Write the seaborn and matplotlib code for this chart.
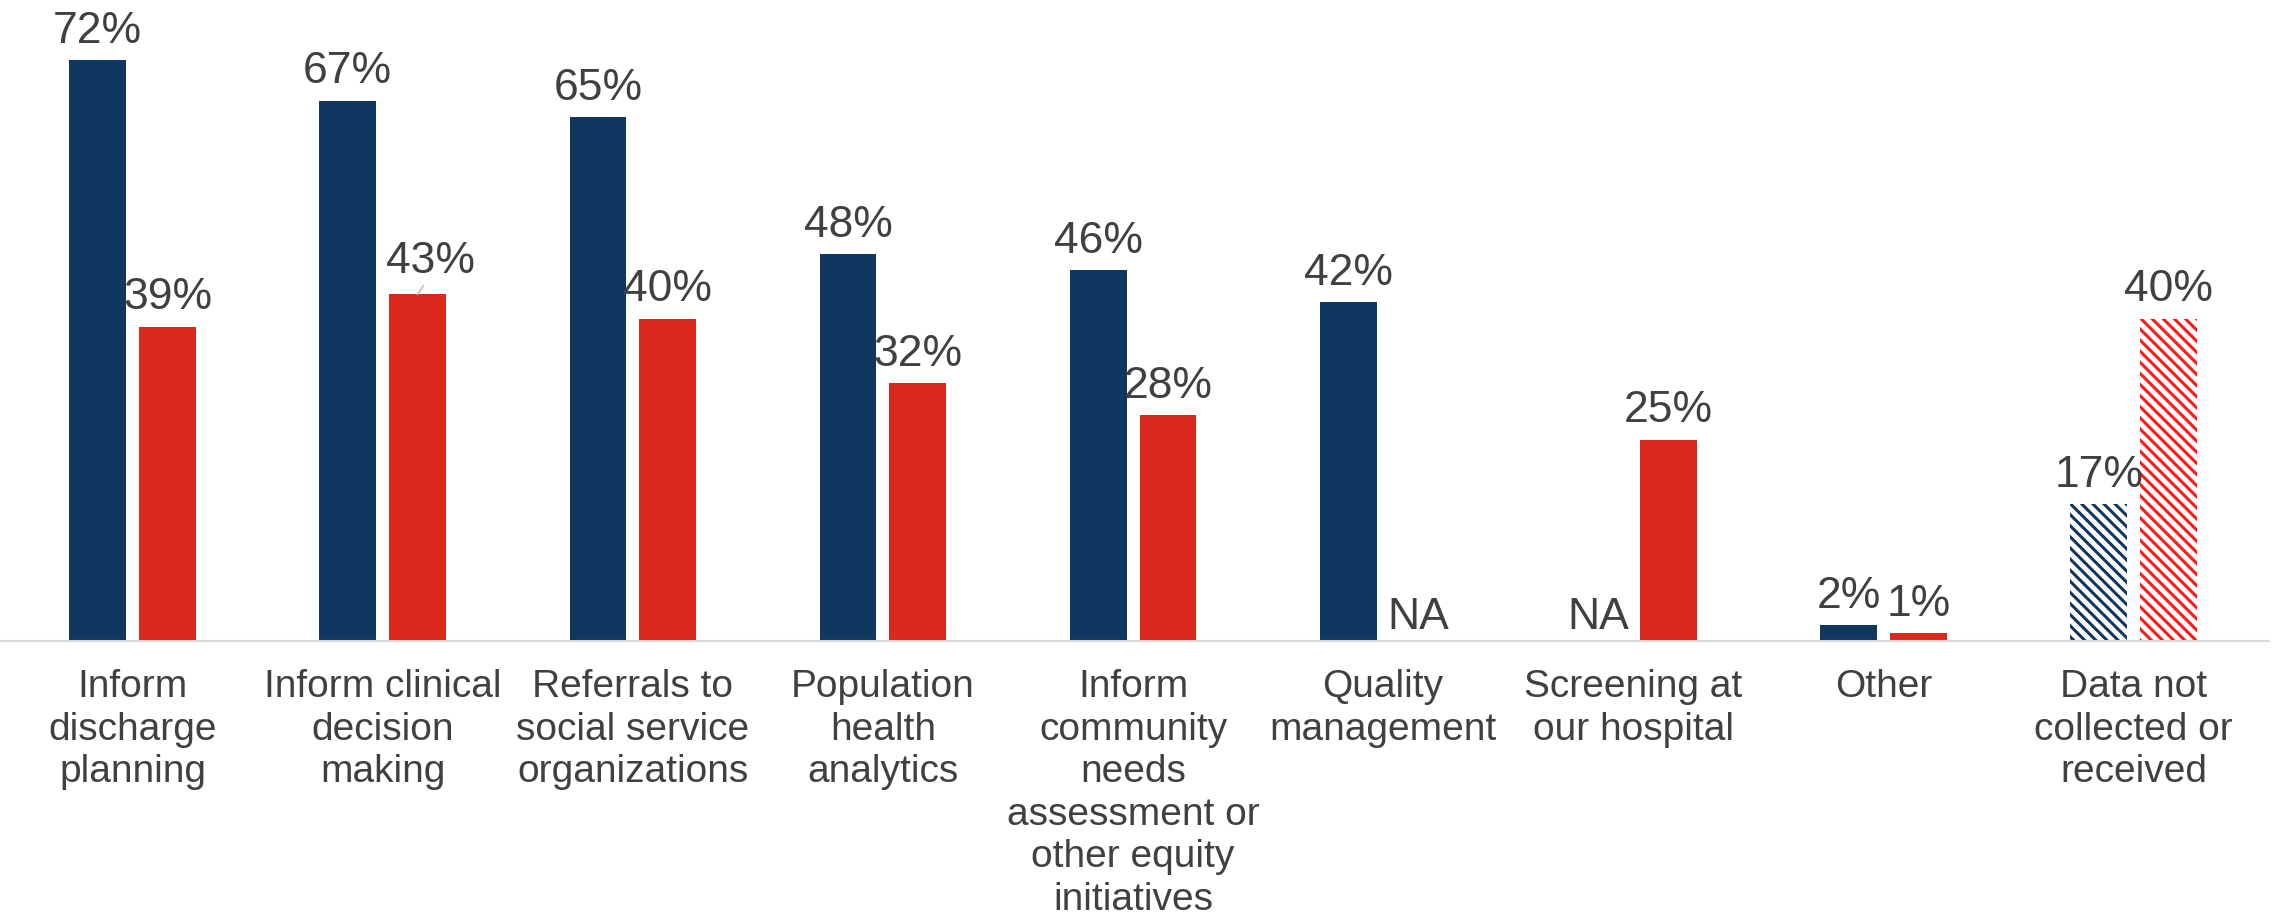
import numpy as np
import pandas as pd
import matplotlib
matplotlib.use("Agg")
import matplotlib.pyplot as plt
import seaborn as sns

# data
categories = [
    "Inform\ndischarge\nplanning",
    "Inform clinical\ndecision\nmaking",
    "Referrals to\nsocial service\norganizations",
    "Population\nhealth\nanalytics",
    "Inform\ncommunity\nneeds\nassessment or\nother equity\ninitiatives",
    "Quality\nmanagement",
    "Screening at\nour hospital",
    "Other",
    "Data not\ncollected or\nreceived",
]
series_names = ["Series 1", "Series 2"]
series_1 = [72, 67, 65, 48, 46, 42, np.nan, 2, 17]
series_2 = [39, 43, 40, 32, 28, np.nan, 25, 1, 40]

NAVY = "#10375F"
RED = "#DA291C"
HATCH_COLORS = ["#10375F", "#FF1A1A"]
TEXT = "#404040"

sns.set_theme(style="white")
plt.rcParams["font.family"] = ["Liberation Sans", "DejaVu Sans"]
plt.rcParams["hatch.linewidth"] = 2.2

df = pd.DataFrame({
    "category": categories * 2,
    "series": [series_names[0]] * len(categories) + [series_names[1]] * len(categories),
    "value": series_1 + series_2,
})

fig = plt.figure(figsize=(22.8, 9.16), dpi=100)
ax = fig.add_axes([0.0, 0.30, 0.995, 0.70])

sns.barplot(data=df, x="category", y="value", hue="series", order=categories,
            hue_order=series_names, palette=[NAVY, RED], saturation=1,
            width=0.558, gap=0.186, errorbar=None, dodge=True, legend=False,
            linewidth=0, ax=ax)

ax.set_ylim(0, 79.5)
ax.set_xlim(-0.53, 8.54)
ax.set_xlabel("")
ax.set_ylabel("")
ax.set_yticks([])
for s in ["left", "right", "top"]:
    ax.spines[s].set_visible(False)
ax.spines["bottom"].set_color("#D9D9D9")
ax.spines["bottom"].set_linewidth(1.5)
ax.tick_params(axis="x", length=0, pad=20, labelsize=28, colors=TEXT)
for lab in ax.get_xticklabels():
    lab.set_linespacing(1.235)
    lab.set_verticalalignment("top")

last = len(categories) - 1
for k, cont in enumerate(ax.containers):
    for bar in cont:
        cx = bar.get_x() + bar.get_width() / 2
        h = bar.get_height()
        if np.isnan(h):
            continue
        if cx > last - 0.5:
            bar.set_facecolor("white")
            bar.set_edgecolor(HATCH_COLORS[k])
            bar.set_hatch("\\\\\\")
            bar.set_linewidth(0)
        label = f"{h:.0f}%"
        if abs(h - 43) < 0.01 and k == 1:
            # label pushed up and right with a small leader line
            ax.annotate(label, xy=(cx, h), xytext=(cx + 0.05, h + 1.5),
                        ha="center", va="bottom", fontsize=32, color=TEXT,
                        arrowprops=dict(arrowstyle="-", color="#BFBFBF", lw=1.2,
                                        shrinkA=0, shrinkB=0,
                                        relpos=(0.45, 0.0)))
        else:
            ax.annotate(label, xy=(cx, h), xytext=(0, 6), textcoords="offset points",
                        ha="center", va="bottom", fontsize=32, color=TEXT)

# NA markers where a series has no value
offset = 0.558 / 4
for i, (a, b) in enumerate(zip(series_1, series_2)):
    if np.isnan(a):
        ax.annotate("NA", xy=(i - offset, 0), xytext=(0, 2), textcoords="offset points",
                    ha="center", va="bottom", fontsize=32, color=TEXT)
    if np.isnan(b):
        ax.annotate("NA", xy=(i + offset, 0), xytext=(0, 2), textcoords="offset points",
                    ha="center", va="bottom", fontsize=32, color=TEXT)

fig.savefig("out.png", dpi=100, facecolor="white")
